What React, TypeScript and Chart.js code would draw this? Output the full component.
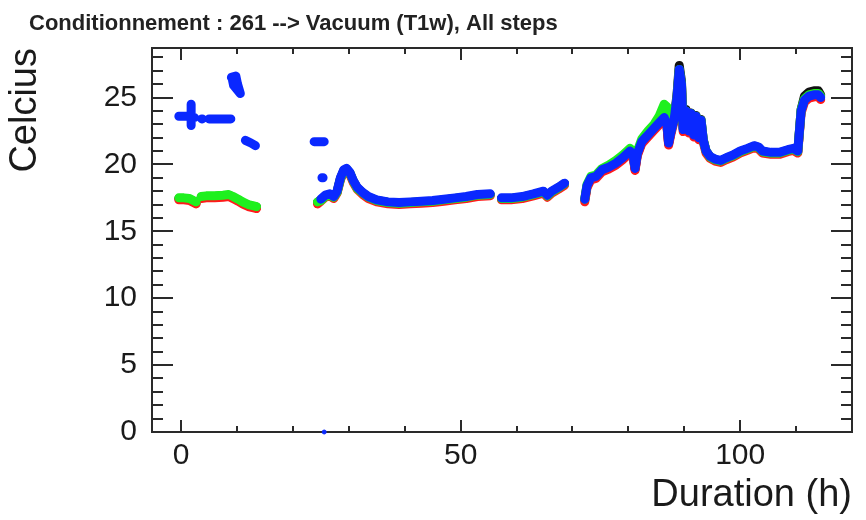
import { useEffect, useRef } from "react";
import { Chart, registerables } from "chart.js";

Chart.register(...registerables);

const TITLE = "Conditionnement : 261 --> Vacuum (T1w), All steps";
const X_TITLE = "Duration (h)";
const Y_TITLE = "Celcius";
const FONT = "'Liberation Sans', Arial, Helvetica, sans-serif";

// Axis ticks (labelled) and the minor tick positions
const xTickValues = [0, 50, 100];
const yTickValues = [0, 5, 10, 15, 20, 25];
const xMinorTicks = [0, 10, 20, 30, 40, 50, 60, 70, 80, 90, 100, 110, 120];
const yMinorTicks = [
  0, 1, 2, 3, 4, 5, 6, 7, 8, 9, 10, 11, 12, 13, 14, 15, 16, 17, 18, 19, 20,
  21, 22, 23, 24, 25, 26, 27, 28,
];

// First hours of the run (green / red / black sensors)
const earlyHours = [-0.4, 0.5, 1.5, 2.2, 2.7, 3.1, 3.6, 4.5, 6.0, 7.5, 8.5, 9.3, 10.2, 11.0, 12.0, 13.0, 13.5];
const greenEarly = [17.5, 17.5, 17.45, 17.3, 17.2, null, 17.6, 17.65, 17.65, 17.7, 17.75, 17.6, 17.4, 17.2, 17.0, 16.9, 16.85];
const redEarly = [17.35, 17.35, 17.3, 17.15, 17.05, null, 17.45, 17.5, 17.5, 17.55, 17.6, 17.45, 17.25, 17.05, 16.85, 16.75, 16.7];
const blackEarly = [17.45, 17.45, 17.4, 17.25, 17.15, null, 17.55, 17.6, 17.6, 17.65, 17.7, 17.55, 17.35, 17.15, 16.95, 16.85, 16.8];

// First hours of the run (blue sensor, scattered readings)
const blueEarlyHours = [
  -0.4, 1.0, 2.4, 2.4, 1.8, 1.8, 1.8, 3.7, 3.8, 3.8, 5.0, 6.5, 8.9, 8.9,
  9.0, 9.8, 10.1, 10.6, 10.2, 9.4, 9.2, 9.9, 9.9, 11.5, 12.5, 13.3, 13.3, 23.8,
  25.6, 25.6, 25.2, 25.4,
];
const blueEarly = [
  23.6, 23.6, 23.5, null, 24.5, 22.9, null, 23.4, 23.4, null, 23.4, 23.4, 23.4, null,
  26.5, 26.6, 26.0, 25.3, 25.5, 25.9, 26.3, 26.3, null, 21.8, 21.6, 21.4, null, 21.7,
  21.7, null, 19.0, 19.0,
];

// A single zero reading of the blue sensor
const blueStrayHours = [25.6];
const blueStray = [0];

// Main run, all four sensors
const runHours = [
  24.4, 25.0, 25.8, 26.6, 27.3, 27.9, 28.5, 29.1, 29.6, 30.2, 30.8, 31.5, 32.5,
  33.5, 35, 37, 39, 41, 43, 45, 47, 49, 51, 53, 55.3, 56.3, 57.3, 59, 61, 63,
  64.8, 65.5, 66.3, 67.5, 68.6, 70.4, 72.2, 72.6, 73.3, 74.2, 75.3, 76.5, 77.8,
  79.0, 80.3, 80.9, 81.2, 81.6, 82.4, 83.5, 84.6, 85.5, 86.4, 86.9, 87.2, 87.6,
  88.2, 88.7, 89.1, 89.5, 89.8, 90.3, 90.8, 91.2, 91.7, 92.1, 92.6, 93.0, 93.4,
  93.9, 94.6, 95.5, 96.5, 97.5, 98.7, 100, 101.3, 102.5, 103.3, 104.0, 105.5,
  107, 108.5, 109.5, 110.3, 110.6, 110.9, 111.5, 112.3, 113.2, 114.0, 114.4,
];
const blueRun = [
  null, 17.4, 17.7, 17.8, 17.6, 18.0, 19.0, 19.6, 19.7, 19.4, 18.8, 18.3, 17.9,
  17.6, 17.35, 17.2, 17.15, 17.2, 17.25, 17.3, 17.4, 17.5, 17.6, 17.75, 17.8, null,
  17.5, 17.5, 17.6, 17.8, 18.0, 17.7, 18.0, 18.3, 18.6, null, 17.4, 18.4, 19.0,
  19.1, 19.6, 19.8, 20.1, 20.5, 21.0, 20.6, 19.7, 20.8, 21.7, 22.2, 22.7, 23.1,
  23.5, 23.0, 21.6, 22.4, 23.4, 25.0, 27.1, 26.0, 22.6, 24.0, 22.5, 23.8, 22.2,
  23.6, 22.0, 23.3, 21.8, 21.0, 20.6, 20.4, 20.3, 20.5, 20.7, 21.0, 21.2, 21.4,
  21.3, 21.0, 20.9, 20.9, 21.1, 21.2, 21.0, 22.5, 24.0, 24.8, 25.1, 25.2, 25.2, 25.0,
];
const greenRun = [
  17.2, 17.3, 17.6, 17.7, 17.55, 17.9, 18.9, 19.5, 19.65, 19.35, 18.75, 18.2, 17.85,
  17.55, 17.3, 17.15, 17.1, 17.15, 17.2, 17.25, 17.35, 17.45, 17.55, 17.7, 17.75, null,
  17.45, 17.45, 17.55, 17.75, 17.95, 17.65, 17.95, 18.25, 18.55, null, 17.4, 18.5, 19.1,
  19.2, 19.7, 19.95, 20.3, 20.7, 21.2, 20.8, 19.9, 21.0, 21.9, 22.5, 23.0, 23.6,
  24.5, 24.3, 22.0, 22.5, 23.4, 25.0, 27.1, 26.0, 22.7, 24.0, 22.6, 23.8, 22.3,
  23.6, 22.1, 23.3, 21.8, 21.0, 20.55, 20.35, 20.25, 20.45, 20.65, 20.95, 21.15, 21.35,
  21.25, 20.95, 20.85, 20.85, 21.05, 21.15, 20.95, 22.5, 24.1, 24.9, 25.2, 25.3, 25.3, 25.1,
];
const redRun = [
  17.05, 17.25, 17.55, 17.65, 17.45, 17.85, 18.85, 19.45, 19.55, 19.25, 18.65, 18.15, 17.75,
  17.45, 17.2, 17.05, 17.0, 17.05, 17.1, 17.15, 17.25, 17.35, 17.45, 17.6, 17.65, null,
  17.35, 17.35, 17.45, 17.65, 17.85, 17.55, 17.85, 18.15, 18.45, null, 17.2, 18.25, 18.85,
  18.95, 19.45, 19.65, 19.95, 20.35, 20.85, 20.45, 19.55, 20.65, 21.55, 22.05, 22.55, 22.95,
  23.35, 22.85, 21.45, 22.25, 23.25, 24.85, 26.95, 25.85, 22.45, 23.85, 22.35, 23.65, 22.05,
  23.45, 21.85, 23.15, 21.65, 20.85, 20.45, 20.25, 20.15, 20.35, 20.55, 20.85, 21.05, 21.25,
  21.15, 20.85, 20.75, 20.75, 20.95, 21.05, 20.85, 22.35, 23.85, 24.65, 24.95, 25.05, 25.05, 24.85,
];
const blackRun = [
  17.15, 17.35, 17.65, 17.75, 17.55, 17.95, 18.95, 19.55, 19.65, 19.35, 18.75, 18.25, 17.85,
  17.55, 17.3, 17.15, 17.1, 17.15, 17.2, 17.25, 17.35, 17.45, 17.55, 17.7, 17.75, null,
  17.45, 17.45, 17.55, 17.75, 17.95, 17.65, 17.95, 18.25, 18.55, null, 17.35, 18.35, 18.95,
  19.05, 19.55, 19.75, 20.05, 20.45, 20.95, 20.55, 19.65, 20.75, 21.65, 22.15, 22.65, 23.05,
  23.45, 22.95, 21.55, 22.4, 23.45, 25.2, 27.4, 26.2, 22.7, 24.1, 22.55, 23.85, 22.25,
  23.65, 22.05, 23.35, 21.85, 21.0, 20.55, 20.35, 20.25, 20.45, 20.65, 20.95, 21.15, 21.35,
  21.25, 20.95, 20.85, 20.85, 21.05, 21.15, 20.95, 22.5, 24.1, 25.1, 25.4, 25.5, 25.5, 25.2,
];

type Pt = { x: number; y: number | null };

function zip(hours: number[], values: (number | null)[]): Pt[] {
  return hours.map((h, i) => ({ x: h, y: values[i] }));
}

// early block and main run are separated by a break in the trace
function joinRuns(a: Pt[], b: Pt[]): Pt[] {
  return [...a, { x: b[0].x, y: null }, ...b];
}

const framePlugin = {
  id: "rootFrame",
  beforeDatasetsDraw(chart: any) {
    const { ctx, chartArea: a, scales } = chart;
    const xs = scales.x;
    const ys = scales.y;
    ctx.save();
    ctx.strokeStyle = "#2a2a2a";
    ctx.lineWidth = 2;
    ctx.strokeRect(a.left, a.top, a.right - a.left, a.bottom - a.top);
    ctx.beginPath();
    for (const v of xMinorTicks) {
      const px = Math.round(xs.getPixelForValue(v));
      const len = xTickValues.includes(v) ? 12 : 6;
      ctx.moveTo(px, a.bottom);
      ctx.lineTo(px, a.bottom - len);
      ctx.moveTo(px, a.top);
      ctx.lineTo(px, a.top + len);
    }
    for (const v of yMinorTicks) {
      const py = Math.round(ys.getPixelForValue(v));
      const len = yTickValues.includes(v) ? 21 : 11;
      ctx.moveTo(a.left, py);
      ctx.lineTo(a.left + len, py);
      ctx.moveTo(a.right, py);
      ctx.lineTo(a.right - len, py);
    }
    ctx.stroke();
    ctx.restore();
  },
  afterDraw(chart: any) {
    const { ctx } = chart;
    ctx.save();
    ctx.font = `bold 22px ${FONT}`;
    ctx.fillStyle = "#222";
    ctx.textBaseline = "alphabetic";
    ctx.textAlign = "left";
    ctx.fillText(TITLE, 29, 30);
    ctx.restore();
  },
};

export default function App() {
  const canvasRef = useRef<HTMLCanvasElement | null>(null);

  useEffect(() => {
    const canvas = canvasRef.current;
    if (!canvas) return;

    const lineStyle = {
      showLine: true,
      borderWidth: 9,
      pointRadius: 0,
      pointHoverRadius: 0,
      borderCapStyle: "round" as const,
      borderJoinStyle: "round" as const,
      tension: 0,
      spanGaps: false,
    };

    const chart = new Chart(canvas, {
      type: "scatter",
      data: {
        datasets: [
          {
            label: "blue zero",
            data: zip(blueStrayHours, blueStray),
            backgroundColor: "#0a28ff",
            borderColor: "#0a28ff",
            pointRadius: 2,
            showLine: false,
            clip: false,
            order: 0,
          },
          {
            label: "blue",
            data: joinRuns(zip(blueEarlyHours, blueEarly), zip(runHours, blueRun)),
            borderColor: "#0a28ff",
            backgroundColor: "#0a28ff",
            ...lineStyle,
            order: 1,
          },
          {
            label: "green",
            data: joinRuns(zip(earlyHours, greenEarly), zip(runHours, greenRun)),
            borderColor: "#1ef01e",
            backgroundColor: "#1ef01e",
            ...lineStyle,
            order: 2,
          },
          {
            label: "red",
            data: joinRuns(zip(earlyHours, redEarly), zip(runHours, redRun)),
            borderColor: "#ff1a1a",
            backgroundColor: "#ff1a1a",
            ...lineStyle,
            order: 3,
          },
          {
            label: "black",
            data: joinRuns(zip(earlyHours, blackEarly), zip(runHours, blackRun)),
            borderColor: "#111111",
            backgroundColor: "#111111",
            ...lineStyle,
            order: 4,
          },
        ],
      },
      options: {
        animation: false,
        responsive: false,
        devicePixelRatio: 1,
        layout: { padding: { left: 0, top: 48, right: 14, bottom: 0 } },
        plugins: {
          legend: { display: false },
          tooltip: { enabled: false },
          title: { display: false },
        },
        scales: {
          x: {
            type: "linear",
            min: -5.2,
            max: 120,
            grid: { display: false, drawTicks: false },
            border: { display: false },
            ticks: {
              padding: 6,
              autoSkip: false,
              maxRotation: 0,
              color: "#1a1a1a",
              font: { family: FONT, size: 30 },
            },
            afterBuildTicks: (s: any) => {
              s.ticks = xTickValues.map((v) => ({ value: v }));
            },
            afterFit: (s: any) => {
              s.height = 88;
            },
            title: {
              display: true,
              text: X_TITLE,
              align: "end",
              color: "#1a1a1a",
              font: { family: FONT, size: 38 },
              padding: { top: 0, bottom: 2 },
            },
          },
          y: {
            type: "linear",
            min: 0,
            max: 28.7,
            grid: { display: false, drawTicks: false },
            border: { display: false },
            ticks: {
              padding: 15,
              autoSkip: false,
              color: "#1a1a1a",
              font: { family: FONT, size: 30 },
            },
            afterBuildTicks: (s: any) => {
              s.ticks = yTickValues.map((v) => ({ value: v }));
            },
            afterFit: (s: any) => {
              s.width = 152;
            },
            title: {
              display: true,
              text: Y_TITLE,
              align: "end",
              color: "#1a1a1a",
              font: { family: FONT, size: 38 },
              padding: { top: 3, bottom: 0 },
            },
          },
        },
      },
      plugins: [framePlugin],
    });

    return () => chart.destroy();
  }, []);

  return (
    <div style={{ position: "fixed", left: 0, top: 0, width: 866, height: 520, background: "#fff" }}>
      <canvas ref={canvasRef} width={866} height={520} />
    </div>
  );
}
